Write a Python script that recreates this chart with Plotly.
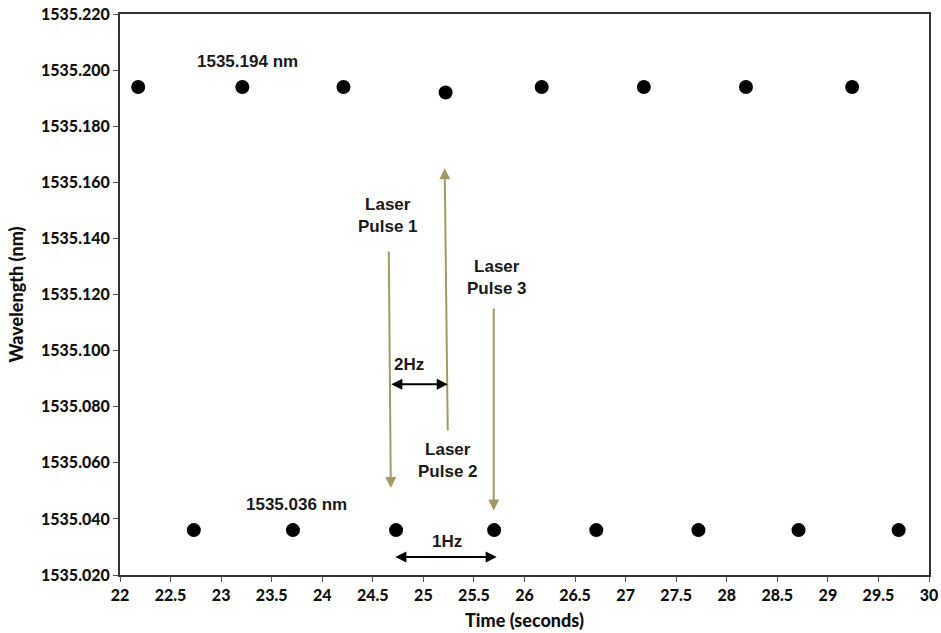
import plotly.graph_objects as go

# Upper wavelength state (nm) vs time (s)
time_high = [22.18, 23.21, 24.21, 25.22, 26.17, 27.18, 28.19, 29.24]
wl_high = [1535.194, 1535.194, 1535.194, 1535.192, 1535.194, 1535.194, 1535.194, 1535.194]

# Lower wavelength state
time_low = [22.73, 23.71, 24.73, 25.70, 26.71, 27.72, 28.71, 29.70]
wl_low = [1535.036, 1535.036, 1535.036, 1535.036, 1535.036, 1535.036, 1535.036, 1535.036]

x_ticks = [22, 22.5, 23, 23.5, 24, 24.5, 25, 25.5, 26, 26.5, 27, 27.5, 28, 28.5, 29, 29.5, 30]
y_ticks = [1535.020, 1535.040, 1535.060, 1535.080, 1535.100, 1535.120, 1535.140,
           1535.160, 1535.180, 1535.200, 1535.220]

OLIVE = "#A39A63"
TICKFONT = dict(family="Lato", size=16, color="#111111", weight=900)
ANNFONT = dict(family="Liberation Sans", size=17, color="#1a1a1a", weight="bold")

fig = go.Figure()
fig.add_trace(go.Scatter(x=time_high, y=wl_high, mode="markers",
                         marker=dict(color="black", size=14), showlegend=False))
fig.add_trace(go.Scatter(x=time_low, y=wl_low, mode="markers",
                         marker=dict(color="black", size=14), showlegend=False))

def arrow(x0, y0, x1, y1, color, side="end", width=2):
    fig.add_annotation(x=x1, y=y1, ax=x0, ay=y0, xref="x", yref="y", axref="x", ayref="y",
                       text="", showarrow=True, arrowhead=2, arrowsize=1.1, arrowwidth=width,
                       arrowcolor=color, arrowside=side)

# laser pulse arrows
arrow(24.658, 1535.1359, 24.678, 1535.051, OLIVE)
arrow(25.241, 1535.071, 25.211, 1535.165, OLIVE)
arrow(25.696, 1535.1155, 25.696, 1535.043, OLIVE)
# frequency spans
arrow(24.668, 1535.088, 25.241, 1535.088, "black", side="end+start")
arrow(24.708, 1535.0264, 25.725, 1535.0264, "black", side="end+start")

def label(x, y, text):
    fig.add_annotation(x=x, y=y, xref="x", yref="y", text=text, showarrow=False,
                       font=ANNFONT, align="center")

label(23.265, 1535.2029, "1535.194 nm")
label(23.749, 1535.045, "1535.036 nm")
label(24.648, 1535.1483, "Laser<br>Pulse 1")
label(25.725, 1535.126, "Laser<br>Pulse 3")
label(25.241, 1535.061, "Laser<br>Pulse 2")
label(24.856, 1535.0952, "2Hz")
label(25.231, 1535.0318, "1Hz")

fig.update_layout(
    width=941, height=633,
    margin=dict(l=120, r=12, t=14, b=58),
    plot_bgcolor="white", paper_bgcolor="white",
    xaxis=dict(range=[22, 30], tickvals=x_ticks, ticktext=[f"{v:g}" for v in x_ticks],
               showgrid=False, zeroline=False, showline=True, linecolor="#333333",
               linewidth=2, mirror=True, ticks="outside", ticklen=5, tickcolor="#555555",
               tickfont=TICKFONT, automargin=False,
               title=dict(text="Time (seconds)", font=dict(family="Lato", size=18,
                          color="#111111", weight=900), standoff=11)),
    yaxis=dict(range=[1535.020, 1535.220], tickvals=y_ticks,
               ticktext=[f"{v:.3f}" for v in y_ticks],
               showgrid=False, zeroline=False, showline=True, linecolor="#333333",
               linewidth=2, mirror=True, ticks="outside", ticklen=5, tickcolor="#555555",
               tickfont=TICKFONT, automargin=False,
               title=dict(text="Wavelength (nm)", font=dict(family="Lato", size=18,
                          color="#111111", weight=900), standoff=13)),
)

fig.write_html("out.html", config={"displayModeBar": False},
               post_script="document.body.style.margin='0';document.body.style.overflow='hidden';")
